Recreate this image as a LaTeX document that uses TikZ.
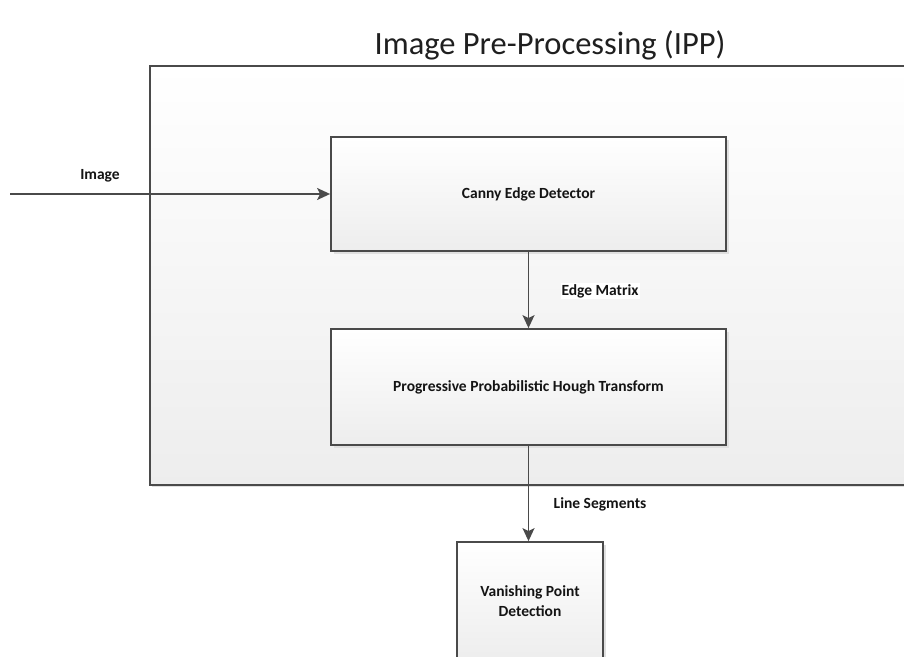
\documentclass[tikz,border=0pt]{standalone}
\usepackage{fontspec}
\setmainfont{Carlito}
\usetikzlibrary{arrows.meta,shadows,positioning}
\definecolor{edge}{HTML}{4A4A4A}
\definecolor{txt}{HTML}{141414}
\tikzset{
  procbox/.style={draw=edge, line width=1.8pt, top color=white, bottom color=black!7,
    drop shadow={shadow xshift=2.5pt, shadow yshift=-2.5pt, fill=black!12, opacity=1},
    font=\fontsize{15.5}{20}\selectfont\bfseries, text=txt, align=center, inner sep=0pt},
  flow/.style={draw=edge, line width=1.6pt, -{Stealth[length=13pt,width=12pt,inset=3pt]}},
  lab/.style={font=\fontsize{15.5}{20}\selectfont\bfseries, text=txt, inner sep=1pt}
}
\begin{document}
\begin{tikzpicture}[x=1pt,y=-1pt]
\useasboundingbox (0,0) rectangle (904,656);
\clip (0,0) rectangle (904,656);
\fill[white] (0,0) rectangle (904,656);
% outer IPP frame
\node[draw=edge, line width=1.8pt, top color=white, bottom color=black!7, minimum width=820pt, minimum height=419pt, anchor=north west, inner sep=0pt,
  drop shadow={shadow xshift=2.5pt, shadow yshift=-2.5pt, fill=black!12, opacity=1}] (ipp) at (149,65) {};
\node[font=\fontsize{32.5}{36}\selectfont, text=black!88] (title) at (550,45) {Image Pre-Processing (IPP)};
% process boxes
\node[procbox, minimum width=395pt, minimum height=114pt] (canny) at (528.5,194) {Canny Edge Detector};
\node[procbox, minimum width=395pt, minimum height=116pt] (ppht) at (528.5,387) {Progressive Probabilistic Hough Transform};
\node[procbox, minimum width=146pt, minimum height=118pt] (vpd) at (530,601) {Vanishing Point\\Detection};
% connectors
\coordinate (src) at (10,194);
\draw[flow] (src) -- (canny.west);
\node[lab] (limage) at (100,176) {Image};
\draw[flow] (canny.south) -- (ppht.north);
\node[lab, fill=white] (ledge) at (600,291) {Edge Matrix};
\draw[flow] (ppht.south) -- (ppht.south |- vpd.north);
\node[lab] (lline) at (600,504) {Line Segments};
\end{tikzpicture}
\end{document}
